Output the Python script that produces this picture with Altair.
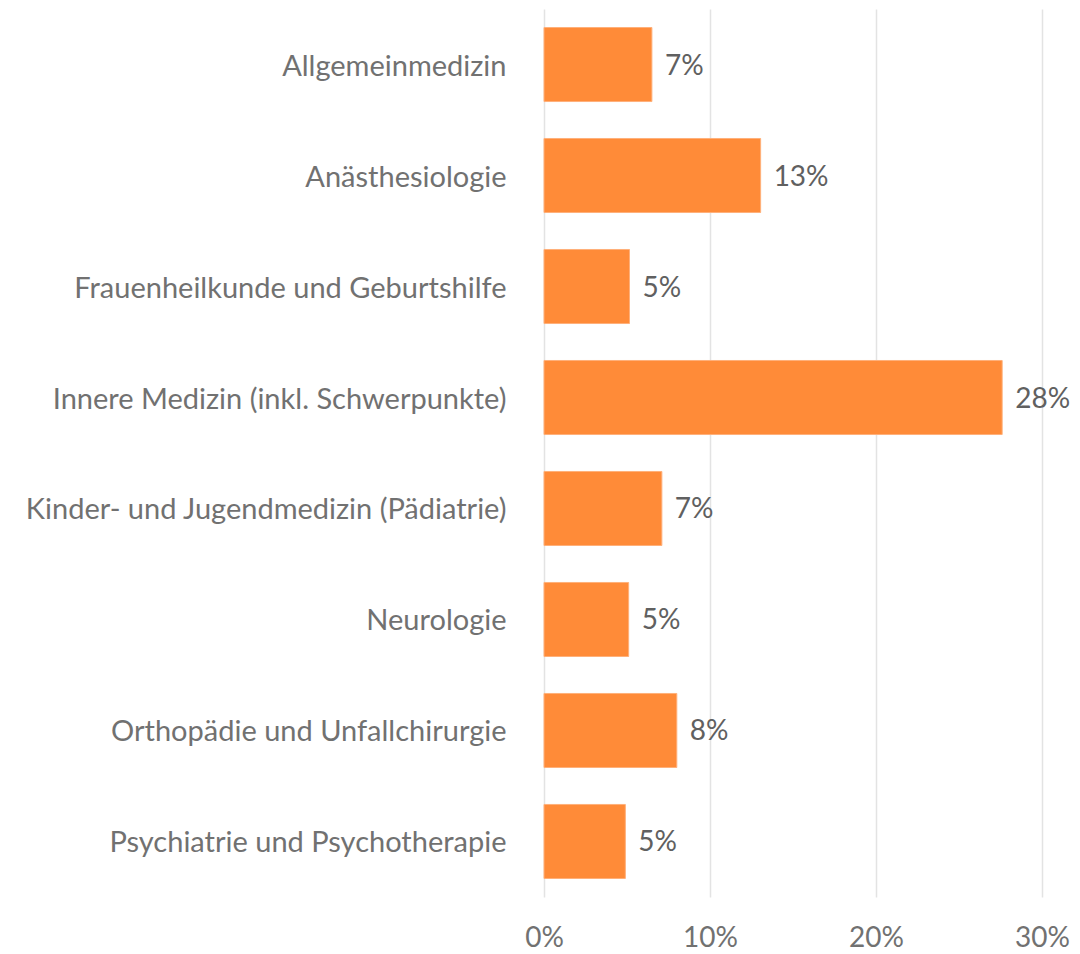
import altair as alt
import pandas as pd

categories = [
    "Allgemeinmedizin",
    "Anästhesiologie",
    "Frauenheilkunde und Geburtshilfe",
    "Innere Medizin (inkl. Schwerpunkte)",
    "Kinder- und Jugendmedizin (Pädiatrie)",
    "Neurologie",
    "Orthopädie und Unfallchirurgie",
    "Psychiatrie und Psychotherapie",
]
values = [0.065, 0.1305, 0.0515, 0.276, 0.071, 0.051, 0.080, 0.049]

df = pd.DataFrame({"cat": categories, "val": values})

FONT = "Lato"
AXGRAY = "#717171"
GRAY = "#606060"

base = alt.Chart(df).encode(
    y=alt.Y("cat:N", sort=categories, title=None,
            scale=alt.Scale(paddingInner=0.333, paddingOuter=0.1667),
            axis=alt.Axis(domain=False, ticks=False, labelPadding=38, labelOffset=2,
                          labelFont=FONT, labelFontSize=29, labelColor=AXGRAY,
                          labelLimit=600)),
    x=alt.X("val:Q", title=None,
            scale=alt.Scale(domain=[0, 0.30], nice=False),
            axis=alt.Axis(format=".0%", values=[0, 0.1, 0.2, 0.3], domain=False,
                          ticks=False, grid=True, gridColor="#e3e3e3", gridWidth=1.5,
                          labelPadding=27, labelFont=FONT, labelFontSize=28,
                          labelColor=AXGRAY, labelFlush=False)),
)

bars = base.mark_bar(color="#FF8B38", stroke="#FFB07A", strokeWidth=1)
labels = base.mark_text(align="left", dx=13, dy=2, font=FONT, fontSize=28, color=GRAY).encode(
    text=alt.Text("val:Q", format=".0%")
)

chart = (bars + labels).properties(
    width=498, height=888,
    autosize=alt.AutoSizeParams(type="none"),
    padding={"left": 536, "top": 1, "right": 30, "bottom": 56},
).configure_view(stroke=None)

chart.save("out.html", embed_options={"renderer": "svg", "actions": False})
